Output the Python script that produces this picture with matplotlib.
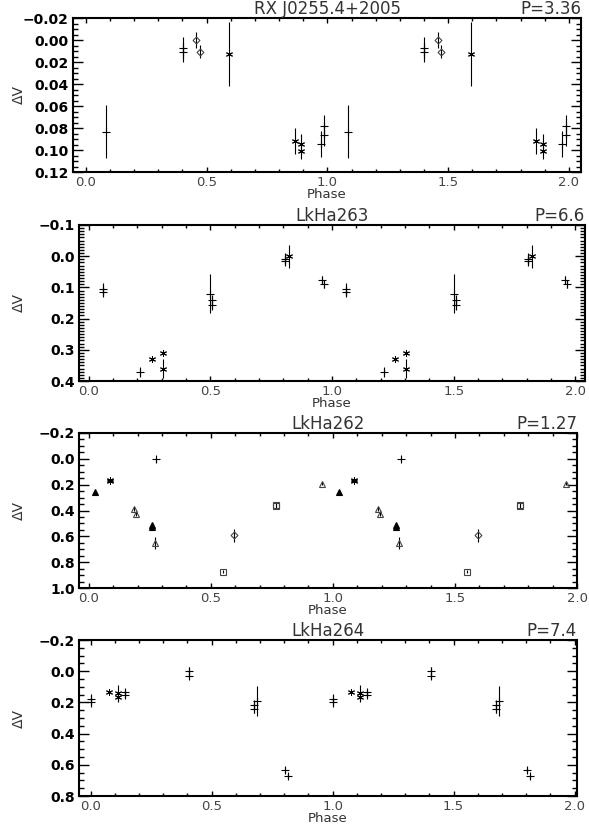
import numpy as np
import matplotlib
matplotlib.use('Agg')
import matplotlib.pyplot as plt
from matplotlib.ticker import MultipleLocator, FuncFormatter

# Phase-folded V light curves of four WTTS, each cycle drawn twice (phase and phase+1)

# RX J0255.4+2005
rx_phase = [0.084, 0.402, 0.402, 0.458, 0.471, 0.593, 0.865, 0.892, 0.892, 0.973, 0.986, 0.986]
rx_dv = [0.0834, 0.0076, 0.0106, 0.000, 0.0106, 0.0127, 0.0918, 0.0945, 0.1006, 0.0945, 0.0864, 0.078]
rx_err = [0.024, 0.010, 0.009, 0.007, 0.006, 0.0295, 0.012, 0.009, 0.008, 0.012, 0.010, 0.010]
rx_sym = ['+', '+', '+', 'D', 'D', '*', '*', '*', '*', '+', '+', '+']

# LkHa263
h263_phase = [0.058, 0.058, 0.212, 0.261, 0.306, 0.306, 0.500, 0.508, 0.508, 0.807, 0.807, 0.822, 0.958, 0.968]
h263_dv = [0.105, 0.115, 0.371, 0.330, 0.310, 0.360, 0.120, 0.140, 0.156, 0.014, 0.008, 0.000, 0.075, 0.089]
h263_err = [0.018, 0.015, 0.015, 0.008, 0.010, 0.030, 0.063, 0.015, 0.015, 0.018, 0.018, 0.037, 0.010, 0.012]
h263_sym = ['+', '+', '+', '*', '*', '*', '+', '+', '+', '+', '+', '*', '+', '+']

# LkHa262
h262_phase = [0.025, 0.086, 0.086, 0.186, 0.193, 0.258, 0.258, 0.277, 0.271, 0.550, 0.593, 0.766, 0.766, 0.955]
h262_dv = [0.258, 0.160, 0.170, 0.388, 0.424, 0.514, 0.525, 0.004, 0.652, 0.873, 0.593, 0.354, 0.367, 0.193]
h262_err = [0.010, 0.015, 0.015, 0.015, 0.015, 0.020, 0.020, 0.020, 0.045, 0.010, 0.050, 0.012, 0.012, 0.010]
h262_sym = ['^f', '*', '*', '^', '^', '^f', '^f', '+', '^', 's', 'D', 's', 's', '^']

# LkHa264
h264_phase = [0.002, 0.002, 0.076, 0.115, 0.115, 0.143, 0.143, 0.405, 0.405, 0.674, 0.674, 0.687, 0.804, 0.815]
h264_dv = [0.178, 0.200, 0.131, 0.140, 0.167, 0.135, 0.150, 0.000, 0.028, 0.215, 0.240, 0.190, 0.634, 0.670]
h264_err = [0.030, 0.030, 0.010, 0.050, 0.030, 0.020, 0.020, 0.030, 0.025, 0.030, 0.030, 0.097, 0.020, 0.020]
h264_sym = ['+', '+', '*', '*', '*', '+', '+', '+', '+', '+', '+', '+', '+', '+']

names = ['RX J0255.4+2005', 'LkHa263', 'LkHa262', 'LkHa264']
periods = ['P=3.36', 'P=6.6', 'P=1.27', 'P=7.4']

W, H = 589, 826
# pixel boxes: left, right, top, bottom
boxes = [(73, 581, 18, 172), (79, 585, 225, 381), (79, 577, 433, 588), (79, 577, 640, 796)]
xlims = [(-0.053, 2.05), (-0.04, 2.04), (-0.04, 2.0), (-0.048, 2.01)]
ylims = [(0.12, -0.02), (0.4, -0.1), (1.0, -0.2), (0.8, -0.2)]
ymaj = [0.02, 0.1, 0.2, 0.2]
ymin = [0.005, 0.01, 0.05, 0.05]
ydec = [2, 1, 1, 1]

marker_style = {
    '+': dict(marker='+', ms=6, mew=0.8, color='black', mfc='none'),
    '*': dict(marker=(6, 2, 0), ms=5, mew=0.7, color='black', mfc='none'),
    'D': dict(marker='D', ms=3.5, mew=0.8, color='#444444', mfc='none'),
    '^': dict(marker='^', ms=5, mew=0.8, color='#444444', mfc='none'),
    '^f': dict(marker='^', ms=4.5, mew=0.8, color='black', mfc='black'),
    's': dict(marker='s', ms=4.5, mew=0.8, color='#444444', mfc='none'),
}

datasets = [
    (rx_phase, rx_dv, rx_err, rx_sym),
    (h263_phase, h263_dv, h263_err, h263_sym),
    (h262_phase, h262_dv, h262_err, h262_sym),
    (h264_phase, h264_dv, h264_err, h264_sym),
]


def make_fmt(nd):
    def fmt(v, p):
        s = f'{v:.{nd}f}'
        if float(s) == 0:
            s = s.lstrip('-')
        return s.replace('-', '\u2212')
    return fmt


fig = plt.figure(figsize=(W / 100, H / 100), dpi=100)

for i, (ph, dv, err, sym) in enumerate(datasets):
    l, r, t, b = boxes[i]
    ax = fig.add_axes([l / W, 1 - b / H, (r - l) / W, (b - t) / H])

    ph = np.array(ph)
    dv = np.array(dv)
    err = np.array(err)
    sym = np.array(sym)
    for shift in (0.0, 1.0):
        ax.errorbar(ph + shift, dv, yerr=err, fmt='none', ecolor='black', elinewidth=0.8, capsize=0)
        for s in marker_style:
            m = sym == s
            if m.any():
                ax.plot(ph[m] + shift, dv[m], linestyle='none', **marker_style[s])

    ax.set_xlim(xlims[i])
    ax.set_ylim(ylims[i])
    ax.xaxis.set_major_locator(MultipleLocator(0.5))
    ax.xaxis.set_minor_locator(MultipleLocator(0.1))
    ax.yaxis.set_major_locator(MultipleLocator(ymaj[i]))
    ax.yaxis.set_minor_locator(MultipleLocator(ymin[i]))
    ax.xaxis.set_major_formatter(FuncFormatter(make_fmt(1)))
    ax.yaxis.set_major_formatter(FuncFormatter(make_fmt(ydec[i])))

    ax.tick_params(axis='both', which='both', direction='in', top=True, right=True, width=1)
    ax.tick_params(axis='y', which='major', length=7, pad=3, labelsize=10)
    ax.tick_params(axis='y', which='minor', length=3.5)
    ax.tick_params(axis='x', which='major', length=3.5, pad=3, labelsize=9.5, labelcolor='#444444')
    ax.tick_params(axis='x', which='minor', length=2)
    for lab in ax.get_yticklabels():
        lab.set_fontweight('bold')
    for sp in ax.spines.values():
        sp.set_linewidth(1.5)

    ax.set_title(names[i], fontsize=12, pad=2, color='#333333')
    ax.set_title(periods[i], loc='right', fontsize=12, pad=2, color='#333333')
    ax.set_xlabel('Phase', fontsize=9.5, labelpad=-0.5, color='#333333')
    fig.text(19 / W, 1 - (t + b) / 2 / H, '\u0394V', rotation=90, fontsize=10,
             color='#333333', ha='center', va='center')

fig.savefig('out.png', dpi=100)
